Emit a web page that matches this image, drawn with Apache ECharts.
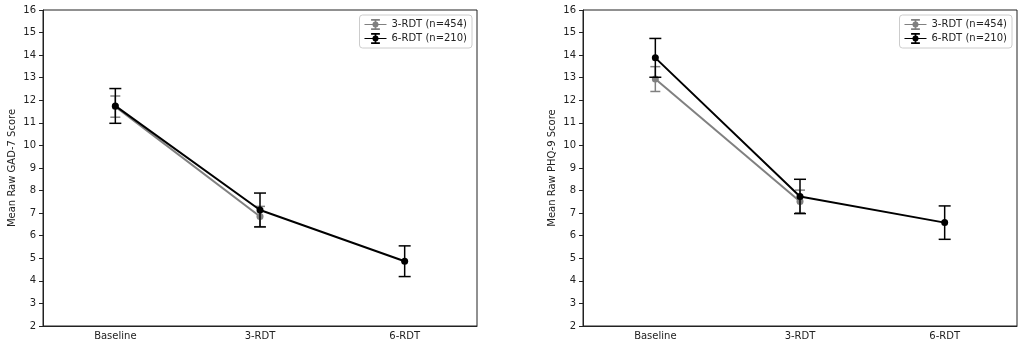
<!DOCTYPE html>
<html>
<head>
<meta charset="UTF-8">
<title>GAD-7 / PHQ-9</title>
<script src="https://cdn.jsdelivr.net/npm/echarts@6/dist/echarts.min.js"></script>
<style>
  html, body { margin: 0; padding: 0; background: #fff; }
  #chart { width: 1021px; height: 353px; }
</style>
</head>
<body>
<div id="chart"></div>
<script>
// time points on the x axis
const timepoints = ['Baseline', '3-RDT', '6-RDT'];
const seriesNames = ['3-RDT (n=454)', '6-RDT (n=210)'];

// GAD-7 (left panel): means and error half-widths
const gad3Mean = [11.72, 6.85, null];
const gad3Err  = [0.47, 0.45, null];
const gad6Mean = [11.75, 7.14, 4.87];
const gad6Err  = [0.77, 0.75, 0.68];

// PHQ-9 (right panel)
const phq3Mean = [12.94, 7.52, null];
const phq3Err  = [0.55, 0.5, null];
const phq6Mean = [13.88, 7.74, 6.58];
const phq6Err  = [0.86, 0.76, 0.74];

const GREY = '#808080';
const BLACK = '#000000';
const FONT = 'DejaVu Sans';

// legend icon: line + error bar + dot
const legendIcon = 'path://M0 9H40V11H0Z M18.5 1H21.5V19H18.5Z M12 0H28V3H12Z M12 17H28V20H12Z M20 4.5A5.5 5.5 0 1 1 20 15.5A5.5 5.5 0 1 1 20 4.5Z';

function errData(mean, err) {
  const out = [];
  mean.forEach((m, i) => { if (m != null) out.push([i, m, err[i]]); });
  return out;
}

function errRender(color, capHalf, width) {
  return function (params, api) {
    const x = api.value(0), y = api.value(1), e = api.value(2);
    const top = api.coord([x, y + e]);
    const bot = api.coord([x, y - e]);
    const st = { stroke: color, lineWidth: width };
    return {
      type: 'group',
      children: [
        { type: 'line', shape: { x1: top[0], y1: top[1], x2: bot[0], y2: bot[1] }, style: st },
        { type: 'line', shape: { x1: top[0] - capHalf, y1: top[1], x2: top[0] + capHalf, y2: top[1] }, style: st },
        { type: 'line', shape: { x1: bot[0] - capHalf, y1: bot[1], x2: bot[0] + capHalf, y2: bot[1] }, style: st }
      ]
    };
  };
}

function panelSeries(idx, m3, e3, m6, e6) {
  return [
    { name: seriesNames[0], type: 'line', xAxisIndex: idx, yAxisIndex: idx, z: 3,
      data: m3, symbol: 'circle', symbolSize: 7, showSymbol: true,
      lineStyle: { color: GREY, width: 2 }, itemStyle: { color: GREY } },
    { name: seriesNames[0], type: 'custom', xAxisIndex: idx, yAxisIndex: idx, z: 2,
      renderItem: errRender(GREY, 5, 1.5), data: errData(m3, e3), encode: { x: 0, y: 1 },
      itemStyle: { color: GREY }, silent: true },
    { name: seriesNames[1], type: 'line', xAxisIndex: idx, yAxisIndex: idx, z: 5,
      data: m6, symbol: 'circle', symbolSize: 7, showSymbol: true,
      lineStyle: { color: BLACK, width: 2 }, itemStyle: { color: BLACK } },
    { name: seriesNames[1], type: 'custom', xAxisIndex: idx, yAxisIndex: idx, z: 4,
      renderItem: errRender(BLACK, 6, 1.5), data: errData(m6, e6), encode: { x: 0, y: 1 },
      itemStyle: { color: BLACK }, silent: true }
  ];
}

function xAxisCfg(idx) {
  return {
    type: 'category', gridIndex: idx, data: timepoints, boundaryGap: true,
    axisLine: { lineStyle: { color: '#222', width: 1 } },
    axisTick: { alignWithLabel: true, length: 4, lineStyle: { color: '#222' } },
    axisLabel: { fontFamily: FONT, fontSize: 10, color: '#222', margin: 5 },
    splitLine: { show: false }
  };
}

function yAxisCfg(idx, name) {
  return {
    type: 'value', gridIndex: idx, min: 2, max: 16, interval: 1,
    name: name, nameLocation: 'middle', nameGap: 26, nameRotate: 90,
    nameTextStyle: { fontFamily: FONT, fontSize: 10, color: '#222' },
    axisLine: { show: true, lineStyle: { color: '#222', width: 1 } },
    axisTick: { show: true, length: 4, lineStyle: { color: '#222' } },
    axisLabel: { fontFamily: FONT, fontSize: 10, color: '#222', margin: 7 },
    splitLine: { show: false }
  };
}

function legendCfg(right) {
  return {
    data: [
      { name: seriesNames[0], icon: legendIcon, itemStyle: { color: GREY, borderWidth: 0 } },
      { name: seriesNames[1], icon: legendIcon, itemStyle: { color: BLACK, borderWidth: 0 } }
    ],
    orient: 'vertical', top: 15, right: right,
    itemWidth: 22, itemHeight: 12, itemGap: 3,
    lineStyle: { width: 2 },
    padding: [4, 5, 4, 5], borderColor: '#cccccc', borderWidth: 1, borderRadius: 3,
    backgroundColor: '#fff',
    textStyle: { fontFamily: FONT, fontSize: 10, color: '#222' },
    selectedMode: false
  };
}

const chart = echarts.init(document.getElementById('chart'));
chart.setOption({
  animation: false,
  grid: [
    { left: 43, right: 544, top: 10, bottom: 27, show: true, borderColor: '#222', borderWidth: 1, backgroundColor: 'transparent' },
    { left: 583, right: 4, top: 10, bottom: 27, show: true, borderColor: '#222', borderWidth: 1, backgroundColor: 'transparent' }
  ],
  legend: [legendCfg(549), legendCfg(9)],
  xAxis: [xAxisCfg(0), xAxisCfg(1)],
  yAxis: [yAxisCfg(0, 'Mean Raw GAD-7 Score'), yAxisCfg(1, 'Mean Raw PHQ-9 Score')],
  series: [
    ...panelSeries(0, gad3Mean, gad3Err, gad6Mean, gad6Err),
    ...panelSeries(1, phq3Mean, phq3Err, phq6Mean, phq6Err)
  ]
});
</script>
</body>
</html>
